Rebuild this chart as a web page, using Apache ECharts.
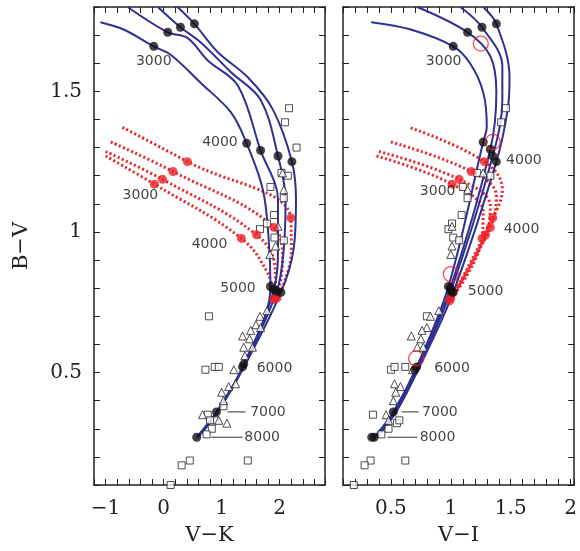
<!DOCTYPE html>
<html>
<head>
<meta charset="utf-8">
<script src="https://cdn.jsdelivr.net/npm/echarts@6/dist/echarts.min.js"></script>
<style>html,body{margin:0;padding:0;background:#fff}#chart{width:580px;height:551px}</style>
</head>
<body>
<div id="chart"></div>
<script>
// ---- left panel (V-K) ----
const trunkK = [[1.36, 0.52], [0.91, 0.36], [0.57, 0.27]];
const blueK = [
    [[-1.09, 1.746], [-0.69, 1.72], [-0.17, 1.66], [0.12, 1.63], [0.64, 1.53], [1.16, 1.425], [1.43, 1.315], [1.71, 1.15], [1.81, 0.973], [1.84, 0.806]],
    [[-0.62, 1.80], [0.07, 1.71], [0.41, 1.69], [0.76, 1.61], [1.28, 1.52], [1.67, 1.29], [1.97, 1.115], [1.97, 0.955], [1.90, 0.795]],
    [[-0.10, 1.80], [0.29, 1.728], [0.64, 1.674], [1.16, 1.568], [1.67, 1.47], [1.97, 1.27], [2.10, 1.115], [2.07, 0.94], [1.95, 0.79]],
    [[0.24, 1.80], [0.53, 1.74], [0.93, 1.64], [1.45, 1.55], [1.88, 1.436], [2.21, 1.25], [2.28, 1.116], [2.24, 0.94], [2.02, 0.785]]
];
const redK = [
    [[-0.71, 1.372], [0.41, 1.25], [2.19, 1.05], [2.2, 0.93], [1.97, 0.767]],
    [[-0.91, 1.32], [0.16, 1.215], [1.90, 1.016], [2.05, 0.9], [1.95, 0.765]],
    [[-1.0, 1.286], [-0.02, 1.187], [1.60, 0.99], [1.92, 0.87], [1.93, 0.765]],
    [[-1.0, 1.27], [-0.16, 1.17], [1.34, 0.977], [1.8, 0.85], [1.9, 0.76]]
];
const blackDotsK = [[-0.17, 1.66], [0.07, 1.71], [0.29, 1.728], [0.53, 1.74], [1.43, 1.315], [1.67, 1.29], [1.97, 1.27], [2.21, 1.25],
    [1.84, 0.806], [1.90, 0.795], [1.95, 0.79], [2.02, 0.785], [1.36, 0.52], [1.38, 0.53], [0.91, 0.36], [0.57, 0.27]];
const redDotsK = [[0.41, 1.25], [0.16, 1.215], [-0.02, 1.187], [-0.16, 1.17], [2.19, 1.05], [1.90, 1.016], [1.60, 0.99], [1.34, 0.977], [1.95, 0.765], [1.90, 0.76]];
const squaresK = [[2.16, 1.44], [2.09, 1.39], [2.29, 1.30], [2.03, 1.21], [2.14, 1.20], [1.84, 1.16], [2.07, 1.12], [1.90, 1.06], [1.78, 1.03], [1.66, 1.01], [1.91, 0.98], [2.07, 0.97],
    [0.78, 0.70], [0.72, 0.51], [0.88, 0.52], [0.95, 0.52], [1.03, 0.38], [0.76, 0.35], [0.83, 0.30], [0.74, 0.28], [0.45, 0.187], [0.31, 0.17], [1.45, 0.187], [0.12, 0.10], [0.88, 0.33], [0.80, 0.33]];
const trianglesK = [[2.07, 1.15], [2.05, 1.21], [1.93, 0.95], [1.83, 0.92], [1.97, 1.02], [1.78, 0.72], [1.66, 0.70], [1.59, 0.67], [1.67, 0.66], [1.50, 0.65], [1.36, 0.63], [1.48, 0.62],
    [1.38, 0.59], [1.53, 0.59], [1.40, 0.56], [1.21, 0.51], [1.24, 0.46], [1.12, 0.45], [1.00, 0.43], [1.03, 0.40], [0.67, 0.35], [1.09, 0.32], [0.95, 0.33]];
const labelsK = [['3000', -0.17, 1.605, 'center'], ['4000', 0.97, 1.32, 'center'], ['3000', -0.4, 1.13, 'center'], ['4000', 0.79, 0.955, 'center'],
    ['5000', 1.28, 0.80, 'center'], ['6000', 1.91, 0.515, 'center'], ['7000', 1.49, 0.36, 'left'], ['8000', 1.39, 0.27, 'left']];
const leadersK = [[[1.10, 0.36], [1.41, 0.36]], [[0.82, 0.27], [1.36, 0.27]]];

// ---- right panel (V-I) ----
const trunkI = [[0.715, 0.52], [0.52, 0.36], [0.36, 0.27]];
const blueI = [
    [[0.335, 1.746], [0.665, 1.72], [1.02, 1.66], [1.16, 1.60], [1.27, 1.497], [1.30, 1.375], [1.27, 1.32], [0.98, 0.806]],
    [[0.72, 1.80], [1.14, 1.71], [1.33, 1.625], [1.38, 1.497], [1.33, 1.294], [0.996, 0.80]],
    [[1.08, 1.80], [1.26, 1.728], [1.43, 1.59], [1.43, 1.47], [1.35, 1.27], [1.0, 0.79]],
    [[1.27, 1.80], [1.38, 1.74], [1.49, 1.55], [1.475, 1.436], [1.38, 1.25], [1.02, 0.785]]
];
const redI = [
    [[0.665, 1.37], [1.28, 1.25], [1.43, 1.15], [1.35, 1.05], [1.0, 0.76]],
    [[0.5, 1.32], [1.17, 1.215], [1.38, 1.127], [1.33, 1.016], [1.0, 0.76]],
    [[0.40, 1.286], [1.07, 1.187], [1.33, 1.09], [1.29, 0.99], [0.99, 0.755]],
    [[0.38, 1.27], [1.01, 1.17], [1.27, 1.07], [1.26, 0.977], [0.99, 0.755]]
];
const blackDotsI = [[1.02, 1.66], [1.14, 1.71], [1.26, 1.728], [1.38, 1.74], [1.27, 1.32], [1.33, 1.294], [1.35, 1.27], [1.38, 1.25],
    [0.98, 0.806], [0.996, 0.80], [1.0, 0.79], [1.02, 0.785], [0.715, 0.52], [0.70, 0.51], [0.52, 0.36], [0.36, 0.27], [0.34, 0.27]];
const redDotsI = [[1.28, 1.25], [1.17, 1.215], [1.07, 1.187], [1.01, 1.17], [1.35, 1.05], [1.33, 1.016], [1.29, 0.99], [1.26, 0.977], [1.0, 0.765], [0.99, 0.755]];
const circlesI = [[1.25, 1.67], [1.35, 1.32], [1.0, 0.85], [0.71, 0.55]];
const squaresI = [[1.46, 1.44], [1.42, 1.39], [1.33, 1.20], [1.22, 1.21], [1.10, 1.16], [1.14, 1.12], [1.09, 1.06], [1.01, 1.03], [0.98, 1.01], [1.02, 0.98], [1.07, 0.97],
    [0.80, 0.70], [0.50, 0.51], [0.53, 0.52], [0.62, 0.52], [0.35, 0.35], [0.48, 0.30], [0.55, 0.32], [0.57, 0.33], [0.42, 0.28], [0.33, 0.187], [0.28, 0.17], [0.62, 0.187], [0.19, 0.10]];
const trianglesI = [[1.27, 1.21], [1.14, 1.15], [1.01, 1.02], [1.01, 0.95], [1.0, 0.92], [0.90, 0.72], [0.83, 0.70], [0.80, 0.66], [0.76, 0.65], [0.67, 0.63], [0.75, 0.62],
    [0.72, 0.59], [0.77, 0.59], [0.68, 0.51], [0.53, 0.46], [0.58, 0.45], [0.54, 0.43], [0.52, 0.40], [0.46, 0.35], [0.48, 0.33]];
const labelsI = [['3000', 0.94, 1.605, 'center'], ['4000', 1.61, 1.255, 'center'], ['3000', 0.89, 1.145, 'center'], ['4000', 1.59, 1.01, 'center'],
    ['5000', 1.29, 0.79, 'center'], ['6000', 1.01, 0.515, 'center'], ['7000', 0.76, 0.36, 'left'], ['8000', 0.74, 0.27, 'left']];
const leadersI = [[[0.59, 0.36], [0.73, 0.36]], [[0.47, 0.27], [0.72, 0.27]]];

const BLUE = '#2e3192';
const RED = '#ec2027';
const FONT = 'DejaVu Serif';

function fmtNum(v) {
    let r = Math.round(v * 10) / 10;
    return r < 0 ? '\u2212' + Math.abs(r) : String(r);
}

function makeAxes(idx, min, max, showLabel, name) {
    let tick = { show: true, inside: true, length: 6, lineStyle: { color: '#222' } };
    let line = { show: true, onZero: false, lineStyle: { color: '#222', width: 1.5 } };
    return {
        x: [
            {
                gridIndex: idx, type: 'value', min: min, max: max, interval: 0.1 * (idx === 0 ? 2 : 1),
                axisLine: line, axisTick: tick, splitLine: { show: false },
                name: name, nameLocation: 'middle', nameGap: 40,
                nameTextStyle: { fontFamily: FONT, fontSize: 21, color: '#222' },
                axisLabel: {
                    margin: 14, fontFamily: FONT, fontSize: 20, color: '#222',
                    formatter: v => showLabel(v) ? fmtNum(v) : ''
                }
            },
            {
                gridIndex: idx, type: 'value', position: 'top', min: min, max: max, interval: 0.1 * (idx === 0 ? 2 : 1),
                axisLine: line, axisTick: tick, splitLine: { show: false }, axisLabel: { show: false }
            }
        ],
        y: [
            {
                gridIndex: idx, type: 'value', min: 0.1, max: 1.8, interval: 0.1,
                axisLine: line, axisTick: tick, splitLine: { show: false },
                name: idx === 0 ? 'B\u2212V' : '', nameLocation: 'middle', nameGap: 62, nameRotate: 90,
                nameTextStyle: { fontFamily: FONT, fontSize: 21, color: '#222' },
                axisLabel: {
                    show: idx === 0, margin: 12, fontFamily: FONT, fontSize: 20, color: '#222',
                    formatter: v => (Math.abs(v * 2 - Math.round(v * 2)) < 1e-6) ? fmtNum(v) : ''
                }
            },
            {
                gridIndex: idx, type: 'value', position: 'right', min: 0.1, max: 1.8, interval: 0.1,
                axisLine: line, axisTick: tick, splitLine: { show: false }, axisLabel: { show: false }
            }
        ]
    };
}

function panelSeries(idx, blue, trunk, red, blackDots, redDots, squares, triangles, labels, leaders, circles) {
    let ax = { xAxisIndex: idx * 2, yAxisIndex: idx * 2 };
    let list = [];
    red.forEach(pts => list.push(Object.assign({
        type: 'line', data: pts, smooth: 0.4, symbol: 'none', z: 2,
        lineStyle: { color: RED, width: 3, type: [2, 2.5] }
    }, ax)));
    blue.forEach((pts, i) => list.push(Object.assign({
        type: 'line', data: pts.concat(trunk.map(p => [p[0] + i * 0.008, p[1]])), smooth: 0.35, symbol: 'none', z: 3,
        lineStyle: { color: BLUE, width: 2 }
    }, ax)));
    list.push(Object.assign({
        type: 'scatter', data: squares, symbol: 'rect', symbolSize: 7, z: 4,
        itemStyle: { color: '#fff', borderColor: '#222', borderWidth: 1 }
    }, ax));
    list.push(Object.assign({
        type: 'scatter', data: triangles, symbol: 'triangle', symbolSize: 8, z: 4,
        itemStyle: { color: '#fff', borderColor: '#222', borderWidth: 1 }
    }, ax));
    list.push(Object.assign({
        type: 'scatter', data: redDots, symbolSize: 9, z: 5, itemStyle: { color: RED }
    }, ax));
    list.push(Object.assign({
        type: 'scatter', data: blackDots, symbolSize: 9, z: 6, itemStyle: { color: '#111' }
    }, ax));
    if (circles) {
        list.push(Object.assign({
            type: 'scatter', data: circles, symbolSize: 15, z: 7,
            itemStyle: { color: 'transparent', borderColor: RED, borderWidth: 1.3 }
        }, ax));
    }
    leaders.forEach(pts => list.push(Object.assign({
        type: 'line', data: pts, symbol: 'none', z: 4, lineStyle: { color: '#333', width: 1 }
    }, ax)));
    list.push(Object.assign({
        type: 'scatter', symbolSize: 0, z: 8,
        data: labels.map(l => ({
            value: [l[1], l[2]],
            label: { show: true, position: 'inside', formatter: l[0], align: l[3], fontFamily: 'DejaVu Sans', fontSize: 14, color: '#111' }
        }))
    }, ax));
    return list;
}

let axK = makeAxes(0, -1.2, 2.78, v => Math.abs(v - Math.round(v)) < 1e-6, 'V\u2212K');
let axI = makeAxes(1, 0.1, 2.03, v => Math.abs(v * 2 - Math.round(v * 2)) < 1e-6 && v > 0.2, 'V\u2212I');

let chart = echarts.init(document.getElementById('chart'));
chart.setOption({
    animation: false,
    grid: [
        { left: 94, right: 255, top: 7, bottom: 65 },
        { left: 343, right: 3, top: 7, bottom: 65 }
    ],
    xAxis: axK.x.concat(axI.x),
    yAxis: axK.y.concat(axI.y),
    series: panelSeries(0, blueK, trunkK, redK, blackDotsK, redDotsK, squaresK, trianglesK, labelsK, leadersK)
        .concat(panelSeries(1, blueI, trunkI, redI, blackDotsI, redDotsI, squaresI, trianglesI, labelsI, leadersI, circlesI))
});
</script>
</body>
</html>
